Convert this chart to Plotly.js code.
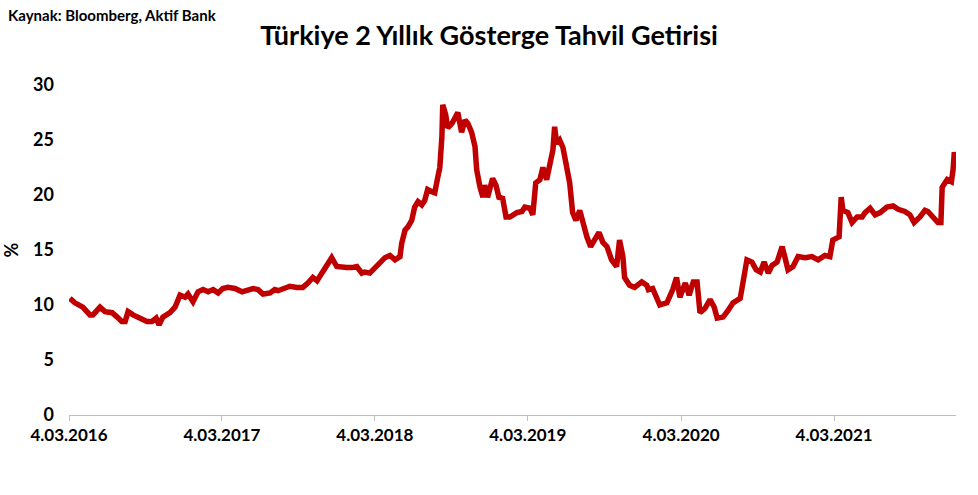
<!DOCTYPE html>
<html>
<head>
<meta charset="utf-8">
<script src="https://cdn.plot.ly/plotly-3.0.1.min.js"></script>
<style>
  html, body { margin: 0; padding: 0; background: #ffffff; }
  #chart { width: 978px; height: 495px; }
</style>
</head>
<body>
<div id="chart"></div>
<script>
// Türkiye 2Y benchmark bond yield

const dates = [
  "2016-03-06", "2016-03-18", "2016-04-06", "2016-04-23", "2016-04-30", "2016-05-17",
  "2016-05-29", "2016-06-15", "2016-06-27", "2016-07-08", "2016-07-16", "2016-07-23",
  "2016-08-04", "2016-08-25", "2016-09-06", "2016-09-18", "2016-09-28", "2016-10-05",
  "2016-10-14", "2016-10-31", "2016-11-12", "2016-11-24", "2016-12-06", "2016-12-13",
  "2016-12-25", "2017-01-06", "2017-01-18", "2017-01-30", "2017-02-11", "2017-02-23",
  "2017-03-06", "2017-03-18", "2017-04-04", "2017-04-21", "2017-05-03", "2017-05-17",
  "2017-05-29", "2017-06-10", "2017-06-27", "2017-07-08", "2017-07-16", "2017-07-28",
  "2017-08-13", "2017-08-30", "2017-09-13", "2017-09-25", "2017-10-07", "2017-10-17",
  "2017-10-29", "2017-11-10", "2017-11-21", "2017-12-03", "2017-12-15", "2017-12-27",
  "2018-01-08", "2018-01-20", "2018-02-01", "2018-02-08", "2018-02-20", "2018-03-04",
  "2018-03-16", "2018-03-28", "2018-04-09", "2018-04-21", "2018-05-03", "2018-05-07",
  "2018-05-15", "2018-05-22", "2018-05-31", "2018-06-07", "2018-06-15", "2018-06-24",
  "2018-07-01", "2018-07-08", "2018-07-18", "2018-07-25", "2018-08-01", "2018-08-06",
  "2018-08-11", "2018-08-13", "2018-08-20", "2018-08-25", "2018-09-04", "2018-09-11",
  "2018-09-18", "2018-09-27", "2018-10-05", "2018-10-12", "2018-10-21", "2018-10-29",
  "2018-11-02", "2018-11-10", "2018-11-17", "2018-11-21", "2018-11-28", "2018-12-10",
  "2018-12-18", "2018-12-25", "2019-01-03", "2019-01-11", "2019-01-20", "2019-02-06",
  "2019-02-18", "2019-02-25", "2019-03-09", "2019-03-16", "2019-03-23", "2019-04-02",
  "2019-04-09", "2019-04-18", "2019-04-25", "2019-05-03", "2019-05-07", "2019-05-12",
  "2019-05-19", "2019-05-27", "2019-06-05", "2019-06-12", "2019-06-19", "2019-06-27",
  "2019-07-06", "2019-07-13", "2019-07-23", "2019-08-01", "2019-08-09", "2019-08-21",
  "2019-08-30", "2019-09-09", "2019-09-20", "2019-10-02", "2019-10-09", "2019-10-17",
  "2019-10-21", "2019-11-02", "2019-11-14", "2019-12-01", "2019-12-13", "2019-12-17",
  "2019-12-27", "2020-01-13", "2020-01-30", "2020-02-13", "2020-02-22", "2020-03-01",
  "2020-03-14", "2020-03-23", "2020-04-02", "2020-04-11", "2020-04-18", "2020-04-30",
  "2020-05-12", "2020-05-22", "2020-05-29", "2020-06-12", "2020-06-24", "2020-07-06",
  "2020-07-23", "2020-07-30", "2020-08-08", "2020-08-20", "2020-08-30", "2020-09-09",
  "2020-09-18", "2020-09-28", "2020-10-07", "2020-10-19", "2020-10-31", "2020-11-07",
  "2020-11-14", "2020-11-26", "2020-12-08", "2020-12-25", "2021-01-10", "2021-01-25",
  "2021-02-10", "2021-02-22", "2021-03-01", "2021-03-11", "2021-03-16", "2021-03-21",
  "2021-03-25", "2021-04-06", "2021-04-16", "2021-04-28", "2021-05-10", "2021-05-17",
  "2021-05-29", "2021-06-10", "2021-06-22", "2021-07-08", "2021-07-23", "2021-08-04",
  "2021-08-20", "2021-09-01", "2021-09-11", "2021-09-25", "2021-10-07", "2021-10-14",
  "2021-10-26", "2021-11-07", "2021-11-14", "2021-11-17", "2021-11-29", "2021-12-09",
  "2021-12-13", "2021-12-16", "2021-12-19"
];

const yields = [
  10.6, 10.2, 9.8, 9.1, 9.1, 9.8,
  9.4, 9.3, 8.9, 8.5, 8.5, 9.4,
  9.1, 8.8, 8.5, 8.5, 8.8, 8.2,
  8.9, 9.3, 9.8, 10.9, 10.7, 11.0,
  10.3, 11.2, 11.4, 11.2, 11.4, 11.1,
  11.5, 11.6, 11.5, 11.2, 11.4, 11.5,
  11.4, 11.0, 11.1, 11.4, 11.3, 11.5,
  11.7, 11.6, 11.6, 12.0, 12.5, 12.2,
  12.9, 13.6, 14.3, 13.5, 13.4, 13.4,
  13.4, 13.5, 12.9, 13.0, 12.9, 13.4,
  13.9, 14.3, 14.5, 14.1, 14.4, 15.6,
  16.8, 17.1, 17.7, 18.9, 19.4, 19.1,
  19.5, 20.5, 20.3, 20.2, 21.6, 22.5,
  25.3, 28.2, 27.3, 26.1, 26.5, 27.1,
  27.5, 25.7, 26.8, 26.5, 25.7, 24.4,
  22.3, 20.7, 19.8, 20.9, 19.8, 21.5,
  20.9, 19.8, 19.7, 18.0, 18.0, 18.4,
  18.5, 18.9, 18.8, 18.2, 21.1, 21.4,
  22.5, 21.4, 22.9, 24.1, 26.2, 24.7,
  25.0, 24.3, 22.5, 21.1, 18.4, 17.7,
  18.6, 17.5, 16.2, 15.3, 15.9, 16.6,
  15.7, 15.3, 14.1, 13.5, 15.9, 14.4,
  12.5, 11.8, 11.6, 12.1, 11.8, 11.4,
  11.5, 10.0, 10.2, 11.4, 12.5, 10.7,
  12.0, 10.9, 12.1, 12.1, 9.3, 9.7,
  10.5, 9.8, 8.8, 8.9, 9.5, 10.2,
  10.6, 12.3, 14.1, 13.9, 13.2, 13.0,
  13.9, 12.9, 13.6, 13.9, 15.3, 14.3,
  13.2, 13.5, 14.4, 14.3, 14.4, 14.1,
  14.5, 14.4, 15.9, 16.1, 16.2, 19.8,
  18.6, 18.4, 17.5, 18.0, 18.0, 18.4,
  18.8, 18.2, 18.4, 18.9, 19.0, 18.7,
  18.5, 18.2, 17.5, 18.0, 18.6, 18.5,
  18.0, 17.5, 17.5, 20.7, 21.4, 21.2,
  22.3, 23.9, 22.6
];

const tickDates = ["2016-03-04", "2017-03-04", "2018-03-04", "2019-03-04", "2020-03-04", "2021-03-04"];
const tickLabels = ["4.03.2016", "4.03.2017", "4.03.2018", "4.03.2019", "4.03.2020", "4.03.2021"];
const yTicks = [0, 5, 10, 15, 20, 25, 30];

const FONT = "Lato, 'Open Sans', sans-serif";

const trace = {
  x: dates,
  y: yields,
  type: "scatter",
  mode: "lines",
  line: { color: "#c00000", width: 5.5 },
  hoverinfo: "skip",
};

const layout = {
  width: 978,
  height: 495,
  margin: { t: 85, r: 22, b: 80, l: 69 },
  paper_bgcolor: "#ffffff",
  plot_bgcolor: "#ffffff",
  font: { family: FONT, size: 16, color: "#000000" },
  showlegend: false,
  title: {
    text: "<b>Türkiye 2 Yıllık Gösterge Tahvil Getirisi</b>",
    font: { family: FONT, size: 27, color: "#000000" },
    x: 0.5,
    xanchor: "center",
    y: 0.928,
    yanchor: "middle",
  },
  xaxis: {
    type: "date",
    range: ["2016-03-04", "2021-12-20"],
    tickmode: "array",
    tickvals: tickDates,
    ticktext: tickLabels.map((t) => `<b>${t}</b>`),
    ticks: "outside",
    ticklen: 5,
    tickcolor: "#bfbfbf",
    showline: true,
    linecolor: "#bfbfbf",
    linewidth: 1,
    showgrid: false,
    zeroline: false,
    tickfont: { family: FONT, size: 17 },
    fixedrange: true,
  },
  yaxis: {
    range: [0, 30],
    tickmode: "array",
    tickvals: yTicks,
    ticktext: yTicks.map((v) => `<b>${v}</b>`),
    showline: false,
    showgrid: false,
    zeroline: false,
    ticks: "",
    ticklabelstandoff: 14,
    tickfont: { family: FONT, size: 18 },
    title: { text: "<b>%</b>", font: { family: FONT, size: 18 }, standoff: 12 },
    fixedrange: true,
  },
  annotations: [
    {
      text: "<b>Kaynak: Bloomberg, Aktif Bank</b>",
      xref: "paper",
      yref: "paper",
      x: -69 / 887,
      xanchor: "left",
      xshift: 6,
      y: 1,
      yshift: 70,
      yanchor: "middle",
      showarrow: false,
      font: { family: FONT, size: 15, color: "#000000" },
    },
  ],
};

Plotly.newPlot("chart", [trace], layout, { displayModeBar: false, staticPlot: true });
</script>
</body>
</html>
